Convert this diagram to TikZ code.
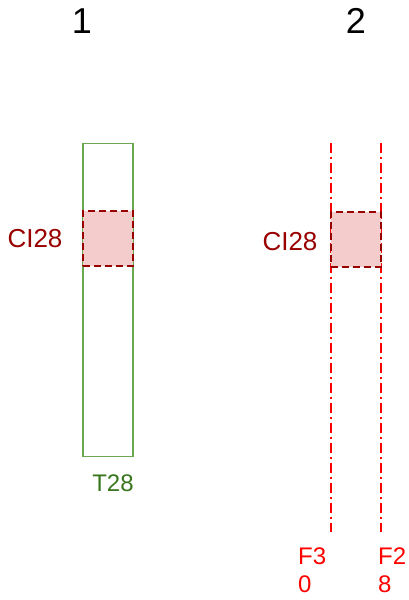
\documentclass[tikz,border=0pt]{standalone}
\usepackage{fontspec}
\setmainfont{Liberation Sans}
\definecolor{gline}{HTML}{6AA84F}
\definecolor{gtext}{HTML}{38761D}
\definecolor{dred}{HTML}{990000}
\definecolor{pinkfill}{HTML}{F4CCCC}
\definecolor{rline}{HTML}{FF0000}
\begin{document}
\begin{tikzpicture}[x=1pt,y=-1pt,
  title/.style={inner sep=0pt,font=\fontsize{36}{40}\selectfont},
  lbl/.style={inner sep=0pt,text=dred,font=\fontsize{26}{30}\selectfont},
  cibox/.style={draw=dred,fill=pinkfill,line width=2.2pt,dash pattern=on 7pt off 4pt,minimum width=50pt,minimum height=55pt,inner sep=0pt},
  greenbar/.style={draw=gline,line width=1.8pt,minimum width=50pt,minimum height=313pt,inner sep=0pt},
  fline/.style={draw=rline,line width=1.8pt,dash pattern=on 10pt off 4pt on 2pt off 4pt},
  flbl/.style={inner sep=0pt,text=rline,align=left,font=\fontsize{24}{28}\selectfont}]
\useasboundingbox (0,0) rectangle (409,600);
\node[title] (t1) at (82,21) {1};
\node[title] (t2) at (356,21) {2};
% left column
\node[greenbar] (bar) at (108,300) {};
\node[cibox] (ci1) at (108,238.5) {};
\node[lbl] (l1) at (35,239) {CI28};
\node[inner sep=0pt,text=gtext,font=\fontsize{24}{28}\selectfont] (t28) at (113,483) {T28};
% right column
\coordinate (f30top) at (331,143);
\coordinate (f30bot) at (331,532);
\coordinate (f28top) at (381,143);
\coordinate (f28bot) at (381,532);
\draw[fline] (f30top) -- (f30bot);
\draw[fline] (f28top) -- (f28bot);
\node[cibox] (ci2) at (356,239.5) {};
\node[lbl] (l2) at (290,242) {CI28};
\node[flbl,anchor=north west] (f30) at (298,548) {F3\\0};
\node[flbl,anchor=north west] (f28) at (378,548) {F2\\8};
\end{tikzpicture}
\end{document}
